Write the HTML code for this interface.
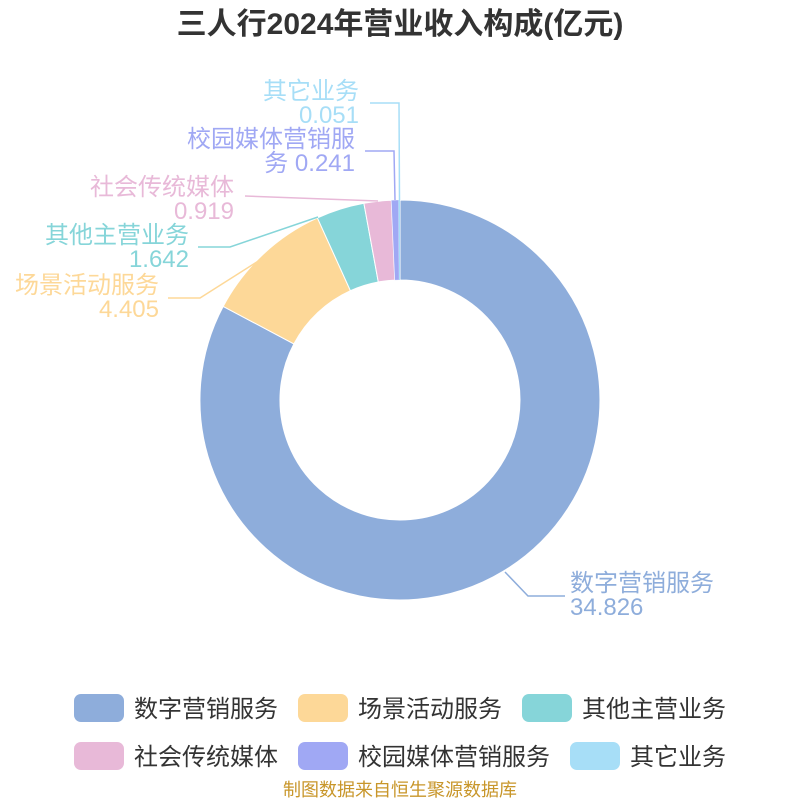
<!DOCTYPE html>
<html><head><meta charset="utf-8"><style>
body{margin:0;background:#fff;}
svg text{font-family:"Liberation Sans","Noto Sans CJK SC",sans-serif;}
</style></head><body>
<svg width="800" height="800" viewBox="0 0 800 800" xmlns="http://www.w3.org/2000/svg">
<text x="400" y="34" text-anchor="middle" font-size="30" font-weight="bold" fill="#333">三人行2024年营业收入构成(亿元)</text>
<g stroke="#fff" stroke-width="1">
<path d="M400,200 A200,200 0 1 1 223.2,306.4 L293.9,343.9 A120,120 0 1 0 400,280 Z" fill="#8eaddb"/>
<path d="M223.2,306.4 A200,200 0 0 1 317.4,217.9 L350.4,290.7 A120,120 0 0 0 293.9,343.9 Z" fill="#fdd898"/>
<path d="M317.4,217.9 A200,200 0 0 1 363.9,203.3 L378.3,282.0 A120,120 0 0 0 350.4,290.7 Z" fill="#86d5d9"/>
<path d="M363.9,203.3 A200,200 0 0 1 391.3,200.2 L394.8,280.1 A120,120 0 0 0 378.3,282.0 Z" fill="#e8b9d8"/>
<path d="M391.3,200.2 A200,200 0 0 1 398.5,200 L399.1,280 A120,120 0 0 0 394.8,280.1 Z" fill="#a0a8f4" stroke-width="0.3"/>
<path d="M398.5,200 A200,200 0 0 1 400,200 L400,280 A120,120 0 0 0 399.1,280 Z" fill="#a7def7" stroke-width="0"/>
</g>
<g fill="none" stroke-width="1.5">
<polyline points="505,572 528,596 565,596" stroke="#8eaddb"/>
<polyline points="260,260 200,298 168,298" stroke="#fdd898"/>
<polyline points="318,217 230,247 198,247" stroke="#86d5d9"/>
<polyline points="378,201 245,196" stroke="#e8b9d8"/>
<polyline points="395,200 394,151 365,151" stroke="#a0a8f4"/>
<polyline points="399.5,200 399,103 370,103" stroke="#a7def7"/>
</g>
<g font-size="24">
<text x="570" y="591" fill="#8eaddb">数字营销服务</text>
<text x="570" y="615" fill="#8eaddb">34.826</text>
<text x="159" y="293" text-anchor="end" fill="#fdd898">场景活动服务</text>
<text x="159" y="317" text-anchor="end" fill="#fdd898">4.405</text>
<text x="189" y="243" text-anchor="end" fill="#86d5d9">其他主营业务</text>
<text x="189" y="267" text-anchor="end" fill="#86d5d9">1.642</text>
<text x="234" y="195" text-anchor="end" fill="#e8b9d8">社会传统媒体</text>
<text x="234" y="219" text-anchor="end" fill="#e8b9d8">0.919</text>
<text x="355" y="147" text-anchor="end" fill="#a0a8f4">校园媒体营销服</text>
<text x="355" y="171" text-anchor="end" fill="#a0a8f4">务 0.241</text>
<text x="359" y="99" text-anchor="end" fill="#a7def7">其它业务</text>
<text x="359" y="123" text-anchor="end" fill="#a7def7">0.051</text>
</g>
<g font-size="24" fill="#333">
<rect x="74" y="694" width="50" height="28" rx="7" fill="#8eaddb"/><text x="134" y="717">数字营销服务</text>
<rect x="298" y="694" width="50" height="28" rx="7" fill="#fdd898"/><text x="358" y="717">场景活动服务</text>
<rect x="522" y="694" width="50" height="28" rx="7" fill="#86d5d9"/><text x="582" y="717">其他主营业务</text>
<rect x="74" y="742" width="50" height="28" rx="7" fill="#e8b9d8"/><text x="134" y="765">社会传统媒体</text>
<rect x="298" y="742" width="50" height="28" rx="7" fill="#a0a8f4"/><text x="358" y="765">校园媒体营销服务</text>
<rect x="570" y="742" width="50" height="28" rx="7" fill="#a7def7"/><text x="630" y="765">其它业务</text>
</g>
<text x="400" y="796" text-anchor="middle" font-size="18" fill="#c8962a">制图数据来自恒生聚源数据库</text>
</svg>
</body></html>
